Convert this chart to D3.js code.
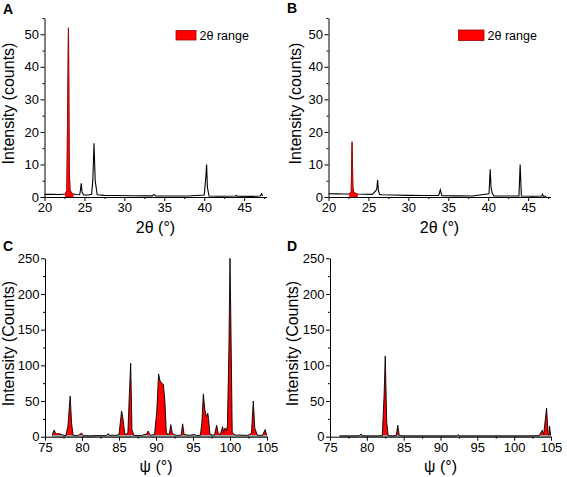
<!DOCTYPE html>
<html><head><meta charset="utf-8">
<script src="https://cdn.jsdelivr.net/npm/d3@7"></script>
<style>
body{margin:0;background:#fff}
svg{display:block}
text{font-family:"Liberation Sans",Arial,sans-serif;fill:#000}
</style>
</head><body>
<svg id="chart" width="567" height="477"></svg>
<script>
// ---------- data ----------
const thetaA = [20, 21, 22, 22.6, 22.8, 22.9, 23.0, 23.1, 23.2, 23.4, 23.6, 24.0, 24.4, 24.5, 24.6, 24.7, 24.9, 25.5, 25.9, 26.05, 26.2, 26.35, 26.6, 27.5, 29, 31, 33.5, 33.7, 33.9, 36, 38, 40.0, 40.2, 40.3, 40.4, 40.6, 42, 43.9, 44.0, 44.1, 46, 47.0, 47.2, 47.3];
const countsA = [0.8, 0.8, 0.75, 0.9, 2, 26, 52, 8, 2, 1.2, 0.9, 0.75, 0.7, 2, 4.2, 1.5, 0.6, 0.6, 0.8, 5, 16.5, 5, 0.7, 0.5, 0.45, 0.4, 0.35, 0.8, 0.35, 0.3, 0.3, 0.6, 6, 10, 3, 0.3, 0.25, 0.3, 0.5, 0.25, 0.2, 0.3, 1.0, 0.3];
const rangeA = [22.6, 23.6];

const thetaB = [20, 21, 22, 22.6, 22.85, 22.95, 23.05, 23.15, 23.4, 23.65, 24.5, 25.5, 25.95, 26.05, 26.15, 26.25, 26.4, 26.7, 28, 30, 32, 33.8, 34.0, 34.2, 36, 38, 40.1, 40.25, 40.35, 40.5, 40.7, 42, 43.85, 44.0, 44.15, 45.5, 46.7, 46.8, 46.9, 47.3];
const countsB = [1.0, 0.95, 0.9, 0.9, 1.5, 17, 3, 1.5, 1.1, 0.9, 0.85, 0.8, 2, 2.5, 5.3, 2, 0.8, 0.7, 0.6, 0.5, 0.45, 0.5, 2.2, 0.4, 0.35, 0.3, 1, 8.5, 3, 1.2, 0.3, 0.3, 0.3, 10, 0.3, 0.25, 0.3, 0.8, 0.25, 0.25];
const rangeB = [22.6, 23.65];

const psiC = [76.0, 76.1, 76.25, 76.4, 76.6, 77.0, 77.4, 77.8, 78.1, 78.4, 78.6, 78.8, 79.4, 79.95, 80.2, 81.0, 82.0, 83.3, 83.55, 83.75, 84.1, 84.4, 85.0, 85.35, 85.5, 85.8, 86.2, 86.4, 86.58, 86.75, 87.0, 88.0, 88.75, 88.95, 89.2, 89.8, 90.1, 90.35, 90.55, 90.8, 91.0, 91.2, 91.4, 91.8, 92.0, 92.2, 92.6, 93.4, 93.6, 93.8, 94.5, 95.2, 95.5, 96.0, 96.2, 96.4, 96.6, 96.8, 97.0, 97.1, 97.3, 97.9, 98.2, 98.4, 98.7, 99.0, 99.15, 99.3, 99.5, 99.65, 99.85, 100.0, 100.1, 100.3, 100.8, 101.2, 101.8, 102.4, 102.9, 103.15, 103.35, 103.7, 104.4, 104.75, 104.95];
const countsC = [2, 6, 9.5, 5, 4, 4, 2.5, 1, 15, 57, 18, 2, 1.5, 5, 1.5, 1, 1.5, 1.5, 4.5, 1.5, 2.5, 1.5, 3, 36, 28, 3, 5, 60, 103, 10, 2, 1.5, 4, 8, 2, 3, 35, 88, 78, 75, 73, 50, 5, 3, 17, 5, 2, 2, 18, 3, 2, 3, 1.5, 2, 20, 60, 38, 28, 33, 25, 3, 2, 16, 5, 3, 14, 6, 12, 9, 15, 120, 250, 175, 5, 2, 2.5, 2, 2, 5, 50, 12, 2, 2, 10, 2];

const psiD = [76.3, 77.5, 78.5, 79.0, 79.2, 79.4, 80.5, 81.5, 82.1, 82.35, 82.5, 82.7, 82.9, 83.5, 84.0, 84.2, 84.4, 85, 87, 89, 91, 92.2, 92.4, 92.6, 94, 96, 98, 100, 102, 103.4, 103.8, 104.0, 104.4, 104.6, 104.7, 104.8, 104.95];
const countsD = [1, 1, 1, 1.2, 4, 1, 1, 1, 1.5, 60, 113, 20, 1.5, 1, 1.5, 16, 1.5, 1, 1, 1, 1, 1, 3, 1, 1, 1, 1, 1, 1, 1.5, 9, 3, 40, 4, 2, 15, 2];

const thetaTicks = [20, 25, 30, 35, 40, 45];
const thetaMinor = [22.5, 27.5, 32.5, 37.5, 42.5, 47.5];
const countsTicksAB = [0, 10, 20, 30, 40, 50];
const countsMinorAB = [5, 15, 25, 35, 45, 55];
const psiTicks = [75, 80, 85, 90, 95, 100, 105];
const psiMinor = [77.5, 82.5, 87.5, 92.5, 97.5, 102.5];
const countsTicksCD = [0, 50, 100, 150, 200, 250];
const countsMinorCD = [25, 75, 125, 175, 225];
const legendLabel = "2θ range";

// ---------- drawing ----------
const svg = d3.select("#chart");

const panels = [
  {letter:"A", lx:3, ly:13.5, xr:[44.5,266.5], yr:[197,18], xd:[20,47.8], yd:[0,55],
   xs:thetaA, ys:countsA, range:rangeA, xt:thetaTicks, xm:thetaMinor, yt:countsTicksAB, ym:countsMinorAB,
   ylab:"Intensity (counts)", ylx:14, xlab:"2θ (°)", xly:233, legend:{x:176, y:30.5, w:20, h:9.5, tx:199.5}},
  {letter:"B", lx:287, ly:13, xr:[328.5,550.5], yr:[197,18], xd:[20,47.8], yd:[0,55],
   xs:thetaB, ys:countsB, range:rangeB, xt:thetaTicks, xm:thetaMinor, yt:countsTicksAB, ym:countsMinorAB,
   ylab:"Intensity (counts)", ylx:300.5, xlab:"2θ (°)", xly:233, legend:{x:458.5, y:30, w:25.5, h:10.5, tx:487.5}},
  {letter:"C", lx:3, ly:251, xr:[45,267], yr:[436.7,258.3], xd:[75,105], yd:[0,250],
   xs:psiC, ys:countsC, range:null, xt:psiTicks, xm:psiMinor, yt:countsTicksCD, ym:countsMinorCD,
   ylab:"Intensity (Counts)", ylx:14, xlab:"ψ (°)", xly:472},
  {letter:"D", lx:287, ly:251, xr:[330,551], yr:[436.7,258.3], xd:[75,105], yd:[0,250],
   xs:psiD, ys:countsD, range:null, xt:psiTicks, xm:psiMinor, yt:countsTicksCD, ym:countsMinorCD,
   ylab:"Intensity (Counts)", ylx:298, xlab:"ψ (°)", xly:472}
];

panels.forEach(p => {
  const g = svg.append("g");
  const x = d3.scaleLinear().domain(p.xd).range(p.xr);
  const y = d3.scaleLinear().domain(p.yd).range(p.yr);
  const pts = p.xs.map((v,i)=>[v, p.ys[i]]);

  const line = d3.line().x(d=>x(d[0])).y(d=>y(d[1]));
  const area = d3.area().x(d=>x(d[0])).y0(y(0)).y1(d=>y(d[1]));

  if (p.range) {
    g.append("path").attr("d", line(pts)).attr("fill","none").attr("stroke","#000").attr("stroke-width",1.1);
    const sub = pts.filter(d => d[0] >= p.range[0] && d[0] <= p.range[1]);
    g.append("path").attr("d", area(sub)).attr("fill","#ff0000").attr("stroke","#ff0000").attr("stroke-width",0.5);
  } else {
    g.append("path").attr("d", area(pts)).attr("fill","#ff0000");
    const baseline = [[p.xs[0], 0.8],[p.xs[p.xs.length-1], 0.8]];
    g.append("path").attr("d", line(baseline)).attr("stroke","#a0a0a0").attr("stroke-width",2.4).attr("fill","none");
    g.append("path").attr("d", line(pts)).attr("fill","none").attr("stroke","#000").attr("stroke-width",0.9);
  }

  // axes
  const xAxis = d3.axisBottom(x).tickValues(p.xt).tickSizeInner(4).tickSizeOuter(0).tickPadding(2).tickFormat(d3.format("d"));
  const yAxis = d3.axisLeft(y).tickValues(p.yt).tickSizeInner(4).tickSizeOuter(0).tickPadding(1.5).tickFormat(d3.format("d"));
  const xMin = d3.axisBottom(x).tickValues(p.xm).tickSizeInner(2).tickSizeOuter(0).tickFormat("");
  const yMin = d3.axisLeft(y).tickValues(p.ym).tickSizeInner(2).tickSizeOuter(0).tickFormat("");

  const ax = g.append("g").attr("transform",`translate(0,${p.yr[0]})`).call(xAxis);
  g.append("g").attr("transform",`translate(0,${p.yr[0]})`).call(xMin).select(".domain").remove();
  const ay = g.append("g").attr("transform",`translate(${p.xr[0]},0)`).call(yAxis);
  g.append("g").attr("transform",`translate(${p.xr[0]},0)`).call(yMin).select(".domain").remove();
  [ax, ay].forEach(a => {
    a.selectAll("text").attr("font-size",13).attr("font-family","Liberation Sans, Arial, sans-serif").attr("fill","#000");
  });
  g.selectAll(".domain, .tick line").attr("stroke","#000").attr("stroke-width",1);

  // titles
  g.append("text").attr("transform",`translate(${p.ylx},${(p.yr[0]+p.yr[1])/2 - 4}) rotate(-90)`)
    .attr("text-anchor","middle").attr("font-size",16).text(p.ylab);
  g.append("text").attr("x",(p.xr[0]+p.xr[1])/2).attr("y",p.xly)
    .attr("text-anchor","middle").attr("font-size",16).text(p.xlab);
  g.append("text").attr("x",p.lx).attr("y",p.ly).attr("font-size",14).attr("font-weight","bold").text(p.letter);

  if (p.legend) {
    const L = p.legend;
    g.append("rect").attr("x",L.x).attr("y",L.y).attr("width",L.w).attr("height",L.h)
      .attr("fill","#ff0000").attr("stroke","#a00000").attr("stroke-width",0.8);
    g.append("text").attr("x",L.tx).attr("y",L.y+L.h-0.5).attr("font-size",12.5).text(legendLabel);
  }
});
</script>
</body></html>
